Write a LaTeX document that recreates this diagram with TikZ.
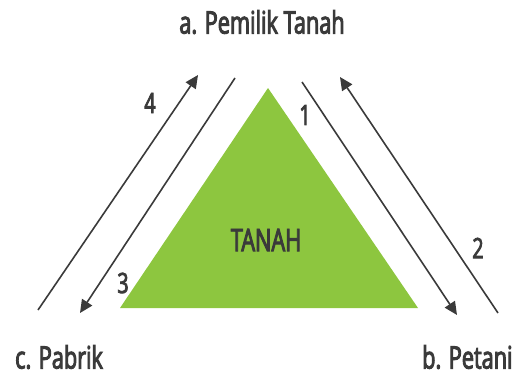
\documentclass[tikz,border=0pt]{standalone}
\usepackage{fontspec}
\setmainfont{Open Sans}[FakeStretch=0.7]
\newfontfamily\labelfont{Open Sans}[FakeStretch=0.7, FakeBold=3]
\usetikzlibrary{arrows.meta}
\definecolor{landgreen}{HTML}{8DC63F}
\definecolor{ink}{HTML}{3A3A3A}
\tikzset{
  flow/.style={draw=ink, line width=1.6pt, -{Triangle[length=13pt,width=12pt]}},
  party/.style={text=ink, font=\labelfont\fontsize{31}{34}\selectfont, inner sep=0pt},
  num/.style={text=ink, font=\labelfont\fontsize{28}{30}\selectfont, inner sep=0pt},
}
\begin{document}
\begin{tikzpicture}[x=1pt, y=-1pt]
  \useasboundingbox (0,0) rectangle (518,383);
  % land triangle
  \fill[landgreen] (268,88) coordinate (apex) -- (418,308) coordinate (br) -- (120,308) coordinate (bl) -- cycle;
  \node[party] (tanah) at (266,240) {TANAH};
  % parties
  \node[party] (owner) at (262,22) {a. Pemilik Tanah};
  \node[party, anchor=west] (farmer) at (422,357) {b. Petani};
  \node[party, anchor=west] (factory) at (15,357) {c. Pabrik};
  % flow endpoints
  \coordinate (s1) at (302,82);  \coordinate (e1) at (457,315);
  \coordinate (s2) at (498,313); \coordinate (e2) at (340,77);
  \coordinate (s3) at (235,78);  \coordinate (e3) at (80,313);
  \coordinate (s4) at (38,310);  \coordinate (e4) at (198,75);
  \draw[flow] (s1) -- (e1);
  \draw[flow] (s2) -- (e2);
  \draw[flow] (s3) -- (e3);
  \draw[flow] (s4) -- (e4);
  % step numbers
  \node[num] (n1) at (305,115) {1};
  \node[num] (n2) at (478,248) {2};
  \node[num] (n3) at (123,283) {3};
  \node[num] (n4) at (150,103) {4};
\end{tikzpicture}
\end{document}
